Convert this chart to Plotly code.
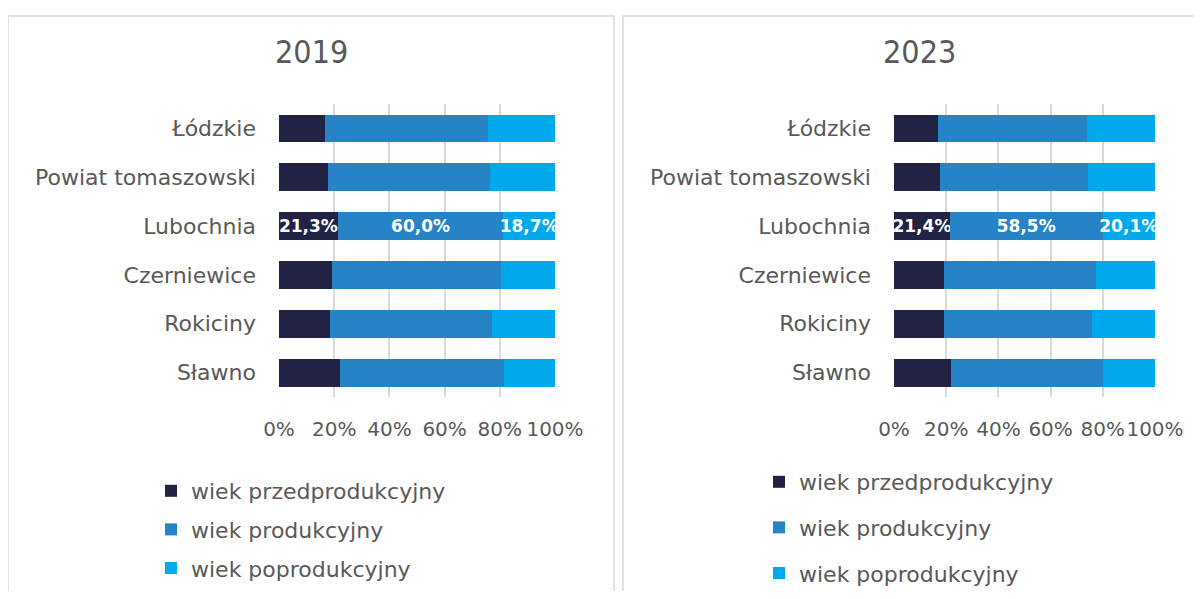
import plotly.graph_objects as go

categories = ["Łódzkie", "Powiat tomaszowski", "Lubochnia", "Czerniewice", "Rokiciny", "Sławno"]
series_names = ["wiek przedprodukcyjny", "wiek produkcyjny", "wiek poprodukcyjny"]

pre_2019 = [16.7, 17.8, 21.3, 19.3, 18.4, 22.2]
prod_2019 = [59.0, 58.6, 60.0, 61.2, 58.9, 59.3]
post_2019 = [24.3, 23.6, 18.7, 19.5, 22.7, 18.5]

pre_2023 = [16.9, 17.6, 21.4, 19.3, 19.3, 21.8]
prod_2023 = [57.2, 56.9, 58.5, 58.2, 56.7, 58.3]
post_2023 = [25.9, 25.5, 20.1, 22.5, 24.0, 19.9]

labelled_category = "Lubochnia"
tick_values = [0, 20, 40, 60, 80, 100]
tick_labels = ["0%", "20%", "40%", "60%", "80%", "100%"]
titles = ["2019", "2023"]

colors = ["#212244", "#2683C6", "#00A8EC"]
OFF = 8  # page body margin
W, H = 1202 - 2 * OFF, 599 - 2 * OFF
FONT = "DejaVu Sans"
TITLE_FONT = "DejaVu Sans Condensed, Liberation Sans Narrow, Liberation Sans"
GREY = "#595959"


def px_x(p):
    return (p - OFF) / W


def px_y(p):
    return 1 - (p - OFF) / H


def fmt(v, c):
    return (f"{v:.1f}%".replace(".", ",")) if c == labelled_category else ""


fig = go.Figure()
panels = [
    ([pre_2019, prod_2019, post_2019], "x", "y", "legend"),
    ([pre_2023, prod_2023, post_2023], "x2", "y2", "legend2"),
]
for series, xa, ya, leg in panels:
    for i, (name, vals) in enumerate(zip(series_names, series)):
        fig.add_trace(go.Bar(
            y=categories, x=vals, orientation="h", name=name,
            marker=dict(color=colors[i], line=dict(width=0)),
            text=[fmt(v, c) for v, c in zip(vals, categories)],
            textposition="inside", insidetextanchor="middle",
            textfont=dict(family=FONT, size=17, color="white", weight="bold"),
            xaxis=xa, yaxis=ya, legend=leg, legendgroup=leg + str(i),
            hoverinfo="skip",
        ))

xcommon = dict(range=[0, 100], tickvals=tick_values, ticktext=tick_labels,
               showgrid=True, gridcolor="#D9D9D9", gridwidth=1.5, zeroline=False,
               showline=False, ticks="", tickangle=0, automargin=False,
               tickfont=dict(family=FONT, size=20, color=GREY),
               ticklabelstandoff=18, fixedrange=True)
ycommon = dict(type="category", autorange="reversed", showgrid=False, showline=False,
               ticks="", automargin=False, tickfont=dict(family=FONT, size=22, color=GREY),
               ticklabelstandoff=22, fixedrange=True)

ydom = [px_y(397), px_y(104)]
fig.update_layout(
    width=W, height=H,
    margin=dict(l=0, r=0, t=0, b=0, autoexpand=False),
    paper_bgcolor="white", plot_bgcolor="white",
    barmode="stack", bargap=0.43,
    showlegend=True,
    uniformtext=dict(minsize=17, mode="show"),
    xaxis=dict(domain=[px_x(279), px_x(555)], anchor="y", **xcommon),
    yaxis=dict(domain=ydom, anchor="x", **ycommon),
    xaxis2=dict(domain=[px_x(894), px_x(1155)], anchor="y2", **xcommon),
    yaxis2=dict(domain=ydom, anchor="x2", **ycommon),
    legend=dict(x=px_x(151), xanchor="left", y=px_y(470), yanchor="top",
                font=dict(family=FONT, size=22, color=GREY), traceorder="grouped",
                tracegroupgap=7, bgcolor="rgba(0,0,0,0)"),
    legend2=dict(x=px_x(759), xanchor="left", y=px_y(461), yanchor="top",
                 font=dict(family=FONT, size=22, color=GREY), traceorder="grouped",
                 tracegroupgap=14, bgcolor="rgba(0,0,0,0)"),
    shapes=[
        dict(type="rect", xref="paper", yref="paper", x0=px_x(8), x1=px_x(614),
             y0=-0.1, y1=px_y(16), line=dict(color="#D9D9D9", width=1.5), layer="below"),
        dict(type="rect", xref="paper", yref="paper", x0=px_x(623), x1=px_x(1220),
             y0=-0.1, y1=px_y(16), line=dict(color="#D9D9D9", width=1.5), layer="below"),
    ],
    annotations=[
        dict(text=titles[0], x=px_x(311), y=px_y(52), xref="paper", yref="paper",
             showarrow=False, xanchor="center", yanchor="middle",
             font=dict(family=TITLE_FONT, size=32, color=GREY)),
        dict(text=titles[1], x=px_x(919), y=px_y(52), xref="paper", yref="paper",
             showarrow=False, xanchor="center", yanchor="middle",
             font=dict(family=TITLE_FONT, size=32, color=GREY)),
    ],
)

fig.write_html("out.html")
